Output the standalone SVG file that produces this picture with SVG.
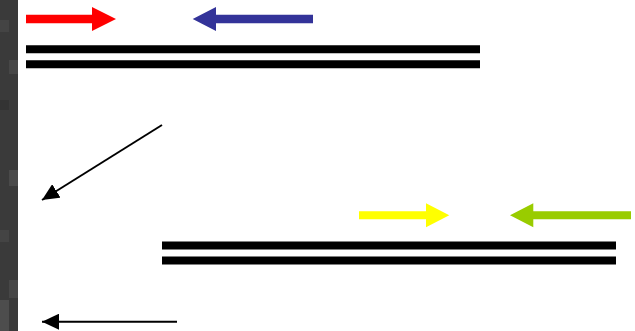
<svg xmlns="http://www.w3.org/2000/svg" width="635" height="331" viewBox="0 0 635 331">
<defs>
<style>
.bar{stroke:#000;stroke-width:8;fill:none}
.conn{stroke:#000;stroke-width:2;fill:none}
</style>
<marker id="ah" markerUnits="userSpaceOnUse" markerWidth="18" markerHeight="16" refX="17" refY="8" orient="auto">
<path d="M0,0 L17,8 L0,16 Z" fill="#000"/>
</marker>
</defs>
<rect width="635" height="331" fill="#fff"/>
<g id="strip">
<rect x="0" y="0" width="18" height="331" fill="#3a3a3a"/>
<rect x="0" y="20" width="9" height="12" fill="#444"/>
<rect x="9" y="60" width="9" height="14" fill="#474747"/>
<rect x="0" y="100" width="9" height="10" fill="#333"/>
<rect x="9" y="170" width="9" height="16" fill="#4a4a4a"/>
<rect x="0" y="230" width="9" height="12" fill="#444"/>
<rect x="9" y="280" width="9" height="18" fill="#474747"/>
<rect x="0" y="300" width="9" height="31" fill="#4d4d4d"/>
</g>
<g id="top-strands">
<line class="bar" x1="26" y1="49.3" x2="480" y2="49.3"/>
<line class="bar" x1="26" y1="64.3" x2="480" y2="64.3"/>
</g>
<g id="red-arrow"><polygon points="26,14.7 92,14.7 92,7 116,19 92,31 92,23.3 26,23.3" fill="#ff0000"/></g>
<g id="blue-arrow"><polygon points="313,14.7 216,14.7 216,7 192.7,19 216,31 216,23.3 313,23.3" fill="#333399"/></g>
<g id="bottom-strands">
<line class="bar" x1="162" y1="245.5" x2="616" y2="245.5"/>
<line class="bar" x1="162" y1="260.5" x2="616" y2="260.5"/>
</g>
<g id="yellow-arrow"><polygon points="359,211.3 426,211.3 426,203.3 449.3,215.3 426,227.3 426,219.3 359,219.3" fill="#ffff00"/></g>
<g id="green-arrow"><polygon points="631,211.3 533.3,211.3 533.3,203.3 510,215.3 533.3,227.3 533.3,219.3 631,219.3" fill="#99cc00"/></g>
<g id="connectors">
<line class="conn" x1="162" y1="125" x2="42" y2="200" marker-end="url(#ah)"/>
<line class="conn" x1="177" y1="321.7" x2="42" y2="321.7" marker-end="url(#ah)"/>
</g>
</svg>
